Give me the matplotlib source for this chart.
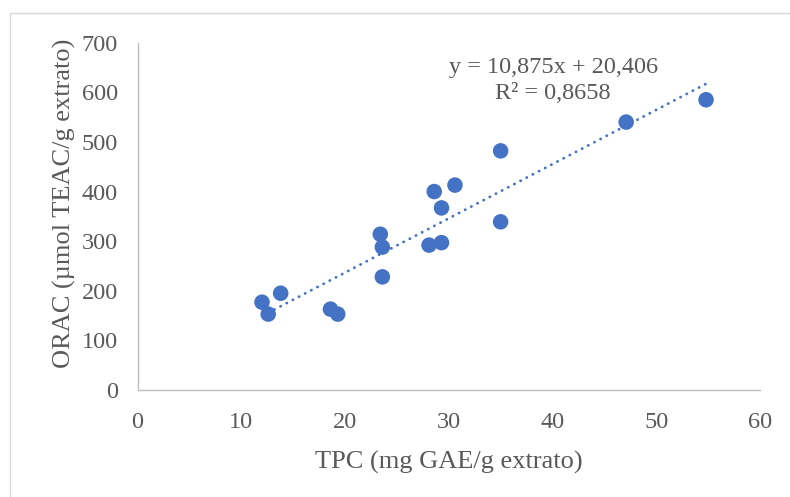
import numpy as np
import matplotlib
matplotlib.use('Agg')
import matplotlib.pyplot as plt
from matplotlib.patches import Rectangle

# TPC (mg GAE/g extrato) vs ORAC (umol TEAC/g extrato)
tpc = [12.0, 12.6, 13.8, 18.6, 19.3, 23.4, 23.6, 23.6, 28.1, 29.3,
       28.6, 29.3, 30.6, 35.0, 35.0, 47.1, 54.8]
orac = [177, 153, 195, 163, 153, 314, 288, 228, 292, 297,
        400, 367, 413, 339, 482, 540, 585]
eq_text = 'y = 10,875x + 20,406'
r2_text = 'R² = 0,8658'
x_ticks = [0, 10, 20, 30, 40, 50, 60]
y_ticks = [0, 100, 200, 300, 400, 500, 600, 700]

blue = '#4472C4'
grey = '#595959'
plt.rcParams['font.family'] = ['Liberation Serif', 'DejaVu Serif']

fig = plt.figure(figsize=(7.9, 4.97), dpi=100)
ax = fig.add_axes([137.5/790, 1 - 390/497, (760 - 137.5)/790, (390 - 42.7)/497])

# outer frame of the chart area (right and bottom edges fall outside)
fig.patches.append(Rectangle((10/790, -0.05), 1.0, 1.05 - 13/497,
                             transform=fig.transFigure, fill=False,
                             edgecolor='#d9d9d9', linewidth=1.0))

# trendline from least squares, drawn between min and max x
slope, icpt = np.polyfit(tpc, orac, 1)
xs = np.array([min(tpc), max(tpc)])
ax.plot(xs, slope*xs + icpt, color=blue, linewidth=2.0,
        linestyle=(0, (0.1, 2.4)), dash_capstyle='round', zorder=2)

ax.scatter(tpc, orac, s=125, color=blue, edgecolors='none', zorder=3)

ax.set_xlim(0, 60)
ax.set_ylim(0, 700)
ax.set_xticks(x_ticks)
ax.set_yticks(y_ticks)
ax.tick_params(length=0, labelsize=17.5, labelcolor=grey)
ax.tick_params(axis='x', pad=16)
ax.tick_params(axis='y', pad=14)
for side in ['top', 'right']:
    ax.spines[side].set_visible(False)
for side in ['left', 'bottom']:
    ax.spines[side].set_color('#bfbfbf')
    ax.spines[side].set_linewidth(1.0)

ax.set_xlabel('TPC (mg GAE/g extrato)', fontsize=19, color=grey, labelpad=13)
ax.set_ylabel('ORAC (µmol TEAC/g extrato)', fontsize=19, color=grey)
ax.yaxis.set_label_coords(-61.5/622.5, 0.537)

ax.text(40.1, 651, eq_text, fontsize=17.5, color=grey, ha='center', va='center')
ax.text(40.0, 597, r2_text, fontsize=17.5, color=grey, ha='center', va='center')

fig.savefig('out.png', dpi=100)
